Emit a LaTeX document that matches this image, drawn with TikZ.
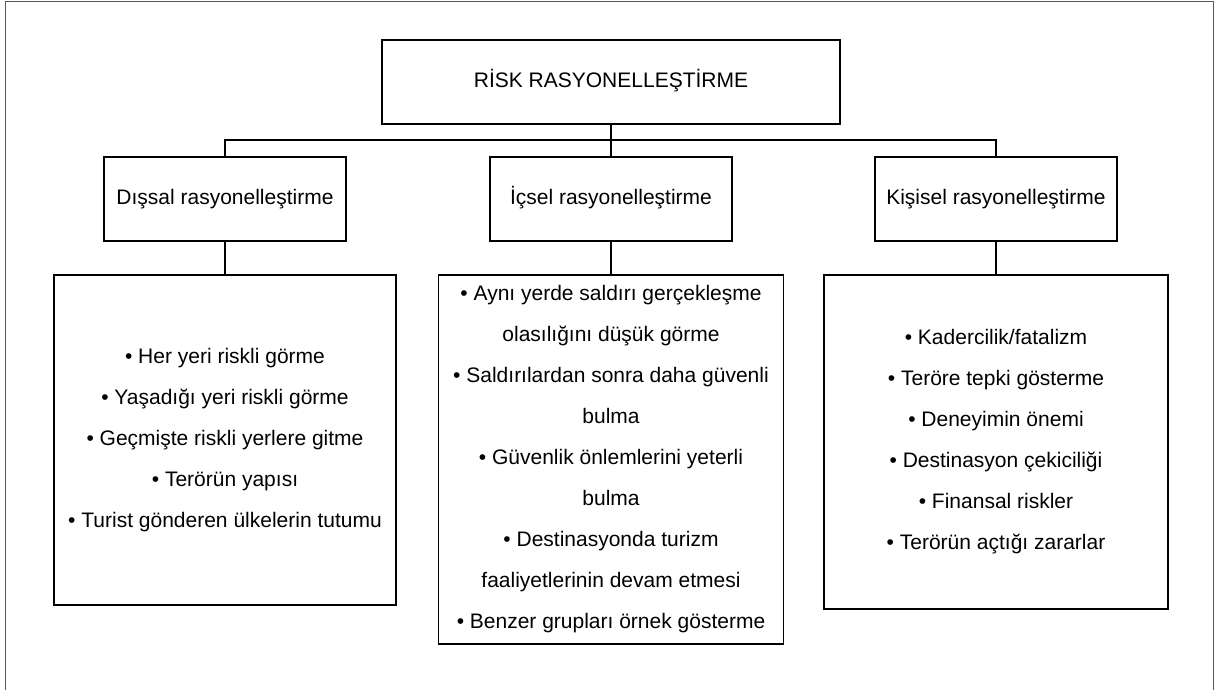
\documentclass[tikz,border=0pt]{standalone}
\usepackage{fontspec}
\setmainfont{Liberation Sans}

\begin{document}
\begin{tikzpicture}[x=1pt, y=1pt,
    mybox/.style={draw, line width=1.5pt, align=center, inner sep=0pt, font=\fontsize{21}{41}\selectfont},
    headbox/.style={mybox, minimum width=242, minimum height=84, text height=15, text depth=4.5}]

        % fixing the page to the size of the picture
        \useasboundingbox (0,0) rectangle (1215,690);
        % outer frame, open at the bottom
        \draw[gray!70!black, line width=1pt] (5,0) -- (5,688.5) -- (1213,688.5) -- (1213,0);

	\node[headbox, minimum width=458] (risk) at (611,608) {R\.ISK RASYONELLE\c{S}T\.IRME};

	\node[headbox] (dis) at (225,491) {D\i\c{s}sal rasyonelle\c{s}tirme};
	\node[headbox] (ic) at (611,491) {\.I\c{c}sel rasyonelle\c{s}tirme};
	\node[headbox] (kis) at (996,491) {Ki\c{s}isel rasyonelle\c{s}tirme};

	\node[mybox, minimum width=342, minimum height=330] (dislist) at (225,250) {%
		\textbullet{} Her yeri riskli görme\\
		\textbullet{} Yaşadığı yeri riskli görme\\
		\textbullet{} Geçmişte riskli yerlere gitme\\
		\textbullet{} Terörün yapısı\\
		\textbullet{} Turist gönderen ülkelerin tutumu};
	\node[mybox, minimum width=345, minimum height=369] (iclist) at (611,230.5) {%
		\textbullet{} Aynı yerde saldırı gerçekleşme\\
		olasılığını düşük görme\\
		\textbullet{} Saldırılardan sonra daha güvenli\\
		bulma\\
		\textbullet{} Güvenlik önlemlerini yeterli\\
		bulma\\
		\textbullet{} Destinasyonda turizm\\
		faaliyetlerinin devam etmesi\\
		\textbullet{} Benzer grupları örnek gösterme};
	\node[mybox, minimum width=344, minimum height=334] (kislist) at (996,248) {%
		\textbullet{} Kadercilik/fatalizm\\
		\textbullet{} Teröre tepki gösterme\\
		\textbullet{} Deneyimin önemi\\
		\textbullet{} Destinasyon çekiciliği\\
		\textbullet{} Finansal riskler\\
		\textbullet{} Terörün açtığı zararlar};

	% connectors
	\draw[line width=1.5pt] (risk.south) -- (ic.north);
	\draw[line width=1.5pt] (dis.north) -- ++(0,16) -| (kis.north);
	\foreach \n in {dis, ic, kis}
		\draw[line width=1.5pt] (\n.south) -- (\n list.north);

	\end{tikzpicture}
\end{document}
